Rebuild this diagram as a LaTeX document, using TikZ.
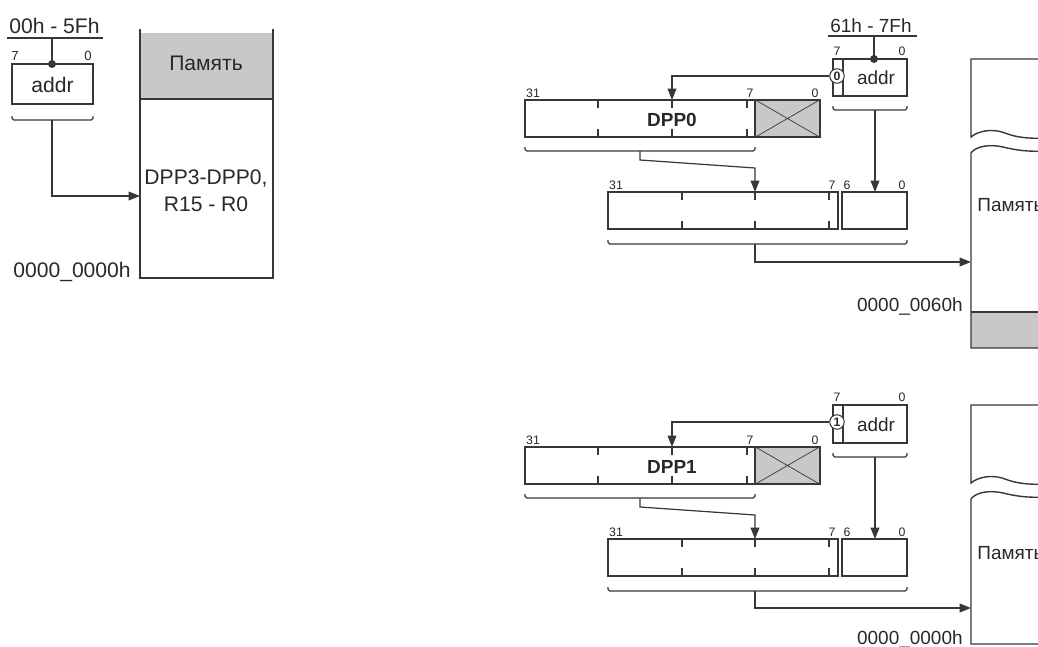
\documentclass[tikz,border=0pt]{standalone}
\usepackage{fontspec}
\setmainfont{Liberation Sans}
\usetikzlibrary{arrows.meta,positioning,fit,calc}
\definecolor{regline}{RGB}{55,55,55}
\definecolor{memgray}{RGB}{200,200,200}
\definecolor{txtgray}{RGB}{40,40,40}
\newcommand{\txtL}{\fontsize{12}{15.3}\selectfont}
\newcommand{\txtR}{\fontsize{10.8}{13}\selectfont}
\newcommand{\bitL}{\fontsize{7.5}{8}\selectfont}
\newcommand{\bitR}{\fontsize{7}{8}\selectfont}
\tikzset{
  reg/.style={draw=regline,line width=0.8pt,inner sep=0pt},
  wire/.style={draw=regline,line width=0.7pt},
  link/.style={wire,-{Triangle[length=6.5pt,width=5pt]}},
  bit/.style={inner sep=0pt,text=txtgray,font=\bitR},
  lbl/.style={inner sep=0pt,text=txtgray},
  selbit/.style={circle,draw=regline,line width=0.6pt,fill=white,inner sep=0pt,
    minimum size=0.29cm,font=\fontsize{7}{8}\selectfont\bfseries,text=txtgray}
}
% bracket under a register: x from, x to, y of the tips
\newcommand{\regbrace}[3]{\draw[wire,rounded corners=1pt] (#1,#3) -- (#1,#3+4) -- (#2,#3+4) -- (#2,#3);}

\begin{document}
\begin{tikzpicture}[x=0.02cm,y=-0.02cm]
  \useasboundingbox (0,0) rectangle (1038,646);
  \clip (0,0) rectangle (1038,646);

  % ---------- short addresses 00h - 5Fh ----------
  \node[lbl,font=\txtL,anchor=base west] (rangeL) at (9,33) {00h - 5Fh};
  \draw[wire] (7,38) -- (103,38);
  \coordinate (barL) at (52,38);
  \node[reg,fit={(12,64) (93,104)}] (addrL) {};
  \node[lbl,font=\txtL] (addrtxtL) at (52.5,85) {addr};
  \coordinate (tapL) at (52,64);
  \draw[wire] (barL) -- (tapL);
  \fill[regline] (tapL) circle (4);
  \node[bit,font=\bitL] (b7L) at (15,56) {7};
  \node[bit,font=\bitL] (b0L) at (88,56) {0};
  \regbrace{12}{93}{116}
  \coordinate (braceL) at (52,120);
  % register memory
  \fill[memgray] (140,33) rectangle (273,99);
  \draw[reg] (140,29) -- (140,278) -- (273,278) -- (273,29);
  \draw[reg] (140,99) -- (273,99);
  \node[lbl,font=\txtL] (memL) at (206,63) {Память};
  \node[lbl,font=\txtL,align=center] (regsL) at (206,191) {DPP3-DPP0,\\R15 - R0};
  \node[lbl,font=\txtL,anchor=base east] (baseL) at (131,277) {0000\_0000h};
  \coordinate (memLin) at (140,196);
  \draw[link] (braceL) |- (memLin);

  % ---------- 61h - 7Fh, bit 7 = 0 ----------
  \node[lbl,font=\txtR,anchor=base west] (range0) at (830,32) {61h - 7Fh};
  \draw[wire] (828,36) -- (917,36);
  \coordinate (bar0) at (874,36);
  \node[reg,fit={(833,59) (907,96)}] (addr0) {};
  \draw[reg] (843,59) -- (843,96);
  \node[lbl,font=\txtR] (addrtxt0) at (876,78) {addr};
  \coordinate (tap0) at (874,59);
  \draw[wire] (bar0) -- (tap0);
  \fill[regline] (tap0) circle (4);
  \node[bit] (b7a0) at (837,51) {7};
  \node[bit] (b0a0) at (902,51) {0};
  \node[selbit] (sel0) at (837,76) {0};
  % DPP0
  \node[reg,fit={(525,100) (755,137)}] (dpp0) {};
  \node[reg,fill=memgray,fit={(755,100) (820,137)}] (dpp0lo) {};
  \draw[wire,line width=0.4pt] (dpp0lo.north west) -- (dpp0lo.south east)
    (dpp0lo.south west) -- (dpp0lo.north east);
  \foreach \x in {598,672,747} {
    \draw[wire] (\x,100) -- (\x,108) (\x,137) -- (\x,129);
  }
  \node[lbl,font=\txtR\bfseries] (dppname0) at (672,120) {DPP0};
  \node[bit] (b31d0) at (533,93) {31};
  \node[bit] (b7d0) at (750,93) {7};
  \node[bit] (b0d0) at (815,93) {0};
  \coordinate (dpp0in) at (672,100);
  \draw[link] (sel0.west) -| (dpp0in);
  \regbrace{525}{755}{147}
  \coordinate (braceD0) at (640,151);
  \coordinate (bendD0) at (755,168);
  % physical address
  \node[reg,fit={(608,192) (838,229)}] (phys0) {};
  \node[reg,fit={(842,192) (907,229)}] (off0) {};
  \foreach \x in {682,755,829} {
    \draw[wire] (\x,192) -- (\x,200) (\x,229) -- (\x,221);
  }
  \node[bit] (b31p0) at (616,185) {31};
  \node[bit] (b7p0) at (832,185) {7};
  \node[bit] (b6p0) at (847,185) {6};
  \node[bit] (b0p0) at (902,185) {0};
  \coordinate (phys0in) at (755,192);
  \draw[link] (braceD0) -- ++(0,9) -- (bendD0) -- (phys0in);
  \regbrace{833}{907}{106}
  \coordinate (braceA0) at (875,110);
  \coordinate (off0in) at (875,192);
  \draw[link] (braceA0) -- (off0in);
  \regbrace{608}{907}{240}
  \coordinate (braceP0) at (755,244);
  \coordinate (mem0in) at (971,262);
  \draw[link] (braceP0) |- (mem0in);
  % memory
  \fill[memgray] (971,312) rectangle (1045,348);
  \draw[reg] (1045,59) -- (971,59) -- (971,137)
    .. controls (978,131) and (992,128) .. (1005,133)
    .. controls (1015,137) and (1028,139) .. (1045,138);
  \draw[reg] (1045,151) .. controls (1028,152) and (1015,150) .. (1003,147)
    .. controls (990,144) and (976,146) .. (971,153) -- (971,348) -- (1045,348);
  \draw[wire] (971,312) -- (1045,312);
  \node[lbl,font=\txtR,anchor=west] (mem0) at (977,205) {Память};
  \node[lbl,font=\txtR,anchor=base east] (base0) at (963,311) {0000\_0060h};

  % ---------- 61h - 7Fh, bit 7 = 1 ----------
  \node[reg,fit={(833,405) (907,443)}] (addr1) {};
  \draw[reg] (843,405) -- (843,443);
  \node[lbl,font=\txtR] (addrtxt1) at (876,425) {addr};
  \node[bit] (b7a1) at (837,397) {7};
  \node[bit] (b0a1) at (902,397) {0};
  \node[selbit] (sel1) at (837,422) {1};
  % DPP1
  \node[reg,fit={(525,447) (755,484)}] (dpp1) {};
  \node[reg,fill=memgray,fit={(755,447) (820,484)}] (dpp1lo) {};
  \draw[wire,line width=0.4pt] (dpp1lo.north west) -- (dpp1lo.south east)
    (dpp1lo.south west) -- (dpp1lo.north east);
  \foreach \x in {598,672,747} {
    \draw[wire] (\x,447) -- (\x,455) (\x,484) -- (\x,476);
  }
  \node[lbl,font=\txtR\bfseries] (dppname1) at (672,467) {DPP1};
  \node[bit] (b31d1) at (533,440) {31};
  \node[bit] (b7d1) at (750,440) {7};
  \node[bit] (b0d1) at (815,440) {0};
  \coordinate (dpp1in) at (672,447);
  \draw[link] (sel1.west) -| (dpp1in);
  \regbrace{525}{755}{494}
  \coordinate (braceD1) at (640,498);
  \coordinate (bendD1) at (755,515);
  % physical address
  \node[reg,fit={(608,539) (838,576)}] (phys1) {};
  \node[reg,fit={(842,539) (907,576)}] (off1) {};
  \foreach \x in {682,755,829} {
    \draw[wire] (\x,539) -- (\x,547) (\x,576) -- (\x,568);
  }
  \node[bit] (b31p1) at (616,532) {31};
  \node[bit] (b7p1) at (832,532) {7};
  \node[bit] (b6p1) at (847,532) {6};
  \node[bit] (b0p1) at (902,532) {0};
  \coordinate (phys1in) at (755,539);
  \draw[link] (braceD1) -- ++(0,9) -- (bendD1) -- (phys1in);
  \regbrace{833}{907}{453}
  \coordinate (braceA1) at (875,457);
  \coordinate (off1in) at (875,539);
  \draw[link] (braceA1) -- (off1in);
  \regbrace{608}{907}{587}
  \coordinate (braceP1) at (755,591);
  \coordinate (mem1in) at (971,608);
  \draw[link] (braceP1) |- (mem1in);
  % memory
  \draw[reg] (1045,405) -- (971,405) -- (971,483)
    .. controls (978,477) and (992,474) .. (1005,479)
    .. controls (1015,483) and (1028,485) .. (1045,484);
  \draw[reg] (1045,497) .. controls (1028,498) and (1015,496) .. (1003,493)
    .. controls (990,490) and (976,492) .. (971,499) -- (971,644) -- (1045,644);
  \node[lbl,font=\txtR,anchor=west] (mem1) at (977,553) {Память};
  \node[lbl,font=\txtR,anchor=base east] (base1) at (963,644) {0000\_0000h};
\end{tikzpicture}
\end{document}
